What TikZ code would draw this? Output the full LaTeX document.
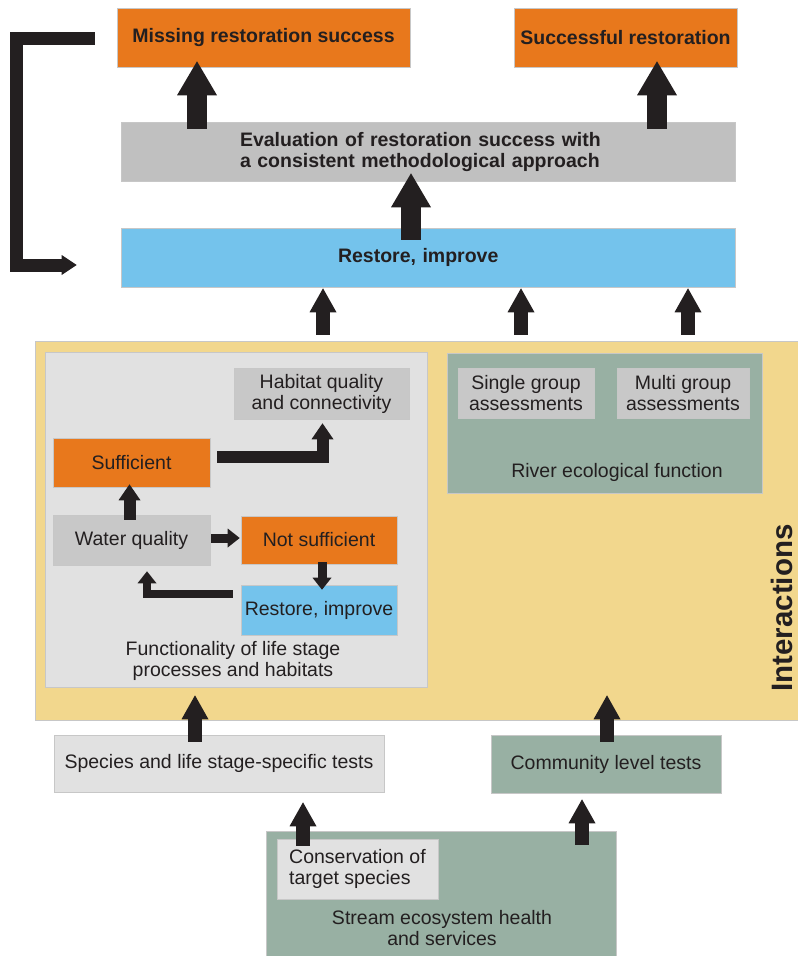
\documentclass[tikz,border=0pt]{standalone}
\usepackage{fontspec}
\setmainfont{Liberation Sans}
\usepackage{tikz}
\usetikzlibrary{arrows.meta}
\definecolor{ink}{RGB}{35,31,32}
\definecolor{rorange}{RGB}{232,120,28}
\definecolor{rblue}{RGB}{116,195,236}
\definecolor{evalgray}{RGB}{192,192,192}
\definecolor{palegray}{RGB}{225,225,225}
\definecolor{midgray}{RGB}{200,200,200}
\definecolor{rgreen}{RGB}{152,176,163}
\definecolor{ryellow}{RGB}{242,215,141}

\begin{document}
\begin{tikzpicture}[x=1pt, y=-1pt,
  box/.style={draw=black!22, line width=0.6pt, inner sep=0pt, align=center, text=ink,
    font=\fontsize{19.5}{21}\selectfont},
  bold/.style={font=\fontsize{19.5}{21}\selectfont\bfseries},
  txt/.style={inner sep=0pt, align=center, text=ink, font=\fontsize{19.5}{21}\selectfont},
  bigarrow/.style={draw=ink, line width=20pt, -{Triangle[length=34pt, width=40pt, line width=0pt]}},
  midarrow/.style={draw=ink, line width=14pt, -{Triangle[length=24pt, width=27pt, line width=0pt]}},
  smallarrow/.style={draw=ink, line width=12pt, -{Triangle[length=16pt, width=22pt, line width=0pt]}},
  thinarrow/.style={draw=ink, line width=9pt, -{Triangle[length=12pt, width=19pt, line width=0pt]}},
  backarrow/.style={draw=ink, line width=13pt, -{Triangle[length=15pt, width=20pt, line width=0pt]}}
]
\useasboundingbox (0,0) rectangle (798,956);

% Top: results of evaluation
\node[box, bold, fill=rorange, minimum width=293, minimum height=59] (missing) at (263.5,37.5) {Missing restoration success};
\node[box, bold, fill=rorange, minimum width=223, minimum height=59] (success) at (625.5,37.5) {Successful restoration};
\node[box, bold, fill=evalgray, minimum width=614, minimum height=59, text width=376, align=left] (eval) at (428,151.5) {Evaluation of restoration success with\\a consistent methodological approach};
\node[box, bold, fill=rblue, minimum width=614, minimum height=59, text width=180, align=left] (restore) at (428,257.5) {Restore, improve};

% Interactions area
\node[box, fill=ryellow, minimum width=763, minimum height=379] (inter) at (416.5,530.5) {};
\node[txt, font=\fontsize{29.5}{30}\selectfont\bfseries, rotate=90] (intertext) at (782,608) {Interactions};

% Left part: life stage processes
\node[box, fill=palegray, minimum width=382, minimum height=335] (func) at (236,519.5) {};
\node[txt] (functext) at (233,661) {Functionality of life stage\\processes and habitats};
\node[box, fill=midgray, minimum width=175, minimum height=51] (habitat) at (321.5,393.5) {Habitat quality\\and connectivity};
\node[box, fill=rorange, minimum width=157, minimum height=49] (suff) at (131.5,462.5) {Sufficient};
\node[box, fill=midgray, minimum width=157, minimum height=50] (water) at (131.5,540) {Water quality};
\node[box, fill=rorange, minimum width=156, minimum height=48] (notsuff) at (319,540) {Not sufficient};
\node[box, fill=rblue, minimum width=156, minimum height=50] (rsmall) at (319,610) {Restore, improve};

% Right part: river ecological function
\node[box, fill=rgreen, minimum width=315, minimum height=140] (river) at (604.5,423) {};
\node[txt] (rivertext) at (617,472) {River ecological function};
\node[box, fill=midgray, minimum width=136, minimum height=50] (single) at (526,393) {Single group\\assessments};
\node[box, fill=midgray, minimum width=132, minimum height=50] (multi) at (683,393) {Multi group\\assessments};

% Tests and base
\node[box, fill=palegray, minimum width=330, minimum height=57] (species) at (219,763.5) {Species and life stage-specific tests};
\node[box, fill=rgreen, minimum width=230, minimum height=58] (community) at (606,764) {Community level tests};
\node[box, fill=rgreen, minimum width=350, minimum height=125] (stream) at (441,893.5) {};
\node[txt] (streamtext) at (442,928) {Stream ecosystem health\\and services};
\node[box, fill=palegray, minimum width=161, minimum height=60, align=left] (conserv) at (357.5,869) {Conservation of\\target species};

% Arrows at the top
\draw[bigarrow] ([xshift=-231, yshift=-7]eval.north) -- ([xshift=-66.5, yshift=6]missing.south);
\draw[bigarrow] ([xshift=229, yshift=-7]eval.north) -- ([xshift=31.5, yshift=6]success.south);
\draw[bigarrow] ([xshift=-17, yshift=-12]restore.north) -- ([xshift=-17, yshift=8]eval.south);
\foreach \a/\b in {-93.5/-105, 104.5/93, 271.5/260}
  \draw[midarrow] ([xshift=\a, yshift=6]inter.north) -- ([xshift=\b, yshift=-1]restore.south);

% Feedback loop
\draw[backarrow] ([xshift=-22, yshift=-0.5]missing.west) -- ++(-78.5,0) |- ([xshift=-44, yshift=-7.5]restore.west);

% Arrows inside the left part
\draw[smallarrow] ([xshift=-2, yshift=-5]water.north) -- ([xshift=-2, yshift=3]suff.south);
\draw[smallarrow] ([xshift=7, yshift=5.5]suff.east) -| ([xshift=1, yshift=-4]habitat.south);
\draw[thinarrow] ([xshift=1, yshift=2]water.east) -- ([xshift=-1, yshift=2]notsuff.west);
\draw[thinarrow] ([xshift=3, yshift=2]notsuff.south) -- ([xshift=3, yshift=-5]rsmall.north);
\draw[thinarrow, line width=8pt] ([xshift=-8, yshift=16]rsmall.west) -| ([xshift=15.5, yshift=-6]water.south);

% Arrows at the bottom
\draw[midarrow] ([xshift=-24, yshift=-7]species.north) -- ([xshift=-41, yshift=-8]func.south);
\draw[midarrow] ([xshift=1, yshift=-7]community.north) -- ([xshift=190.5, yshift=25]inter.south);
\draw[midarrow] ([xshift=-138, yshift=-15]stream.north) -- ([xshift=84, yshift=-10]species.south);
\draw[midarrow] ([xshift=141, yshift=-14]stream.north) -- ([xshift=-24, yshift=-6]community.south);
\end{tikzpicture}
\end{document}
